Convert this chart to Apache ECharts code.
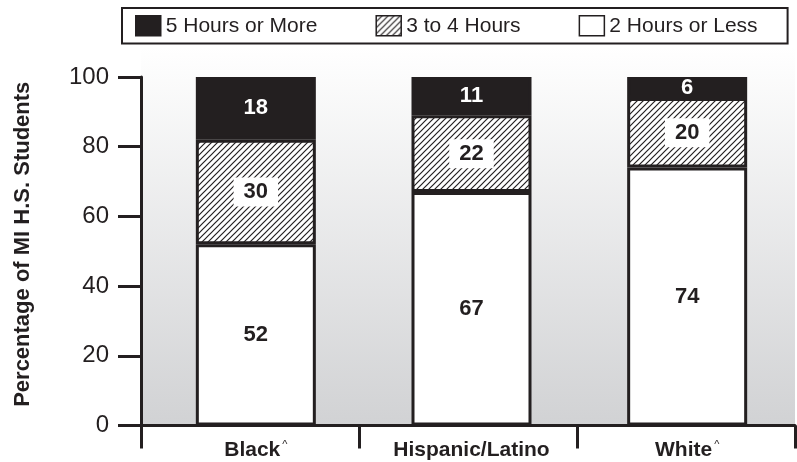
<!DOCTYPE html>
<html>
<head>
<meta charset="utf-8">
<script src="https://cdn.jsdelivr.net/npm/echarts@6/dist/echarts.min.js"></script>
<style>
  html, body { margin: 0; padding: 0; background: #ffffff; }
  #chart { width: 797px; height: 462px; }
</style>
</head>
<body>
<div id="chart"></div>
<script>
// Hours of screen time per school day, by race/ethnicity (percent of students)
const categories = ['Black^', 'Hispanic/Latino', 'White^'];
const twoHoursOrLess = [52, 67, 74];
const threeToFourHours = [30, 22, 20];
const fiveHoursOrMore = [18, 11, 6];
const seriesNames = ['2 Hours or Less', '3 to 4 Hours', '5 Hours or More'];
const legendOrder = ['5 Hours or More', '3 to 4 Hours', '2 Hours or Less'];
const yMin = 0, yMax = 100, yStep = 20;

const INK = '#231f20';
const FONT = '"Liberation Sans", Arial, Helvetica, sans-serif';

// diagonal hatch tile for the middle segment
function hatchTile() {
  const s = 6;
  const c = document.createElement('canvas');
  c.width = s; c.height = s;
  const g = c.getContext('2d');
  g.fillStyle = '#ffffff';
  g.fillRect(0, 0, s, s);
  g.strokeStyle = INK;
  g.lineWidth = 1.2;
  g.beginPath();
  g.moveTo(-1, s + 1); g.lineTo(s + 1, -1);
  g.moveTo(-1, 1); g.lineTo(1, -1);
  g.moveTo(s - 1, s + 1); g.lineTo(s + 1, s - 1);
  g.stroke();
  return c;
}
const hatch = { image: hatchTile(), repeat: 'repeat' };

const chart = echarts.init(document.getElementById('chart'), null, { renderer: 'canvas' });

const barBase = {
  type: 'bar',
  stack: 'total',
  xAxisIndex: 1,
  yAxisIndex: 1,
  barWidth: 120
};

chart.setOption({
  animation: false,
  backgroundColor: '#ffffff',
  textStyle: { fontFamily: FONT, color: INK },
  legend: {
    data: legendOrder,
    left: 122,
    top: 8,
    padding: [7, 30, 7, 13],
    borderColor: INK,
    borderWidth: 2,
    itemGap: 58,
    itemWidth: 25,
    itemHeight: 20,
    icon: 'rect',
    itemStyle: { borderColor: INK, borderWidth: 1.5 },
    textStyle: { fontFamily: FONT, fontSize: 21, color: INK }
  },
  grid: [
    // shaded panel with baseline and category dividers
    {
      left: 141, right: 2, top: 47, bottom: 36.5,
      show: true, borderWidth: 0,
      backgroundColor: {
        type: 'linear', x: 0, y: 0, x2: 0, y2: 1,
        colorStops: [
          { offset: 0, color: '#ffffff' },
          { offset: 1, color: '#d1d2d4' }
        ]
      }
    },
    // bar area
    { left: 148, right: 2, top: 77, bottom: 36.5 }
  ],
  xAxis: [
    {
      gridIndex: 0,
      type: 'category',
      data: categories,
      boundaryGap: true,
      axisLine: { show: true, lineStyle: { color: INK, width: 3 } },
      axisTick: { show: true, length: 23, lineStyle: { color: INK, width: 3 } },
      axisLabel: { show: false },
      splitLine: { show: false }
    },
    {
      gridIndex: 1,
      type: 'category',
      data: categories,
      axisLine: { show: false },
      axisTick: { show: false },
      axisLabel: {
        margin: 14,
        formatter: function (v) {
          if (v.endsWith('^')) return '{b|' + v.slice(0, -1) + '}{s|^}';
          return '{b|' + v + '}';
        },
        rich: {
          b: { fontFamily: FONT, fontSize: 21, fontWeight: 'bold', color: INK },
          s: { fontFamily: FONT, fontSize: 11, color: INK, verticalAlign: 'top', padding: [0, 0, 9, 2] }
        }
      }
    }
  ],
  yAxis: [
    { gridIndex: 0, type: 'value', min: 0, max: 1, show: false },
    {
      gridIndex: 1,
      type: 'value',
      min: yMin, max: yMax, interval: yStep,
      offset: 7,
      name: 'Percentage of MI H.S. Students',
      nameLocation: 'middle',
      nameGap: 107,
      nameTextStyle: {
        fontFamily: FONT, fontSize: 22, fontWeight: 'bold', color: INK,
        padding: [0, 0, 0, 14]
      },
      axisLine: { show: true, lineStyle: { color: INK, width: 3 } },
      axisTick: { show: true, length: 23, lineStyle: { color: INK, width: 3 } },
      axisLabel: { fontFamily: FONT, fontSize: 24, color: INK, margin: 32 },
      splitLine: { show: false }
    }
  ],
  series: [
    Object.assign({}, barBase, {
      name: seriesNames[0],
      data: twoHoursOrLess,
      itemStyle: { color: '#ffffff', borderColor: INK, borderWidth: 3 },
      label: {
        show: true, position: 'inside',
        fontFamily: FONT, fontSize: 22, fontWeight: 'bold', color: INK
      }
    }),
    Object.assign({}, barBase, {
      name: seriesNames[1],
      data: threeToFourHours,
      itemStyle: { color: hatch, borderColor: INK, borderWidth: 3 },
      label: {
        show: true, position: 'inside',
        fontFamily: FONT, fontSize: 22, fontWeight: 'bold', color: INK,
        backgroundColor: '#ffffff', padding: [4, 10, 3, 10]
      }
    }),
    Object.assign({}, barBase, {
      name: seriesNames[2],
      data: fiveHoursOrMore,
      itemStyle: { color: INK, borderColor: INK, borderWidth: 3 },
      label: {
        show: true, position: 'inside',
        fontFamily: FONT, fontSize: 22, fontWeight: 'bold', color: '#ffffff'
      }
    })
  ]
});
</script>
</body>
</html>
